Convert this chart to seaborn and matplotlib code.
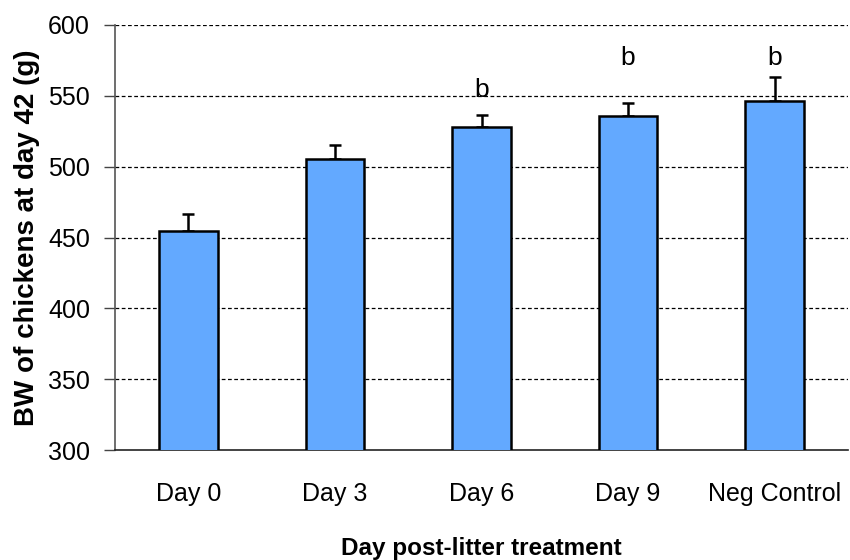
import matplotlib
matplotlib.use("Agg")
import matplotlib.pyplot as plt
import seaborn as sns
import pandas as pd
import numpy as np

categories = ["Day 0", "Day 3", "Day 6", "Day 9", "Neg Control"]
bw_means = [454.5, 505.5, 528, 536, 546.5]
bw_err = [12, 10, 8.5, 9, 17]
letters = ["", "", "b", "b", "b"]
letter_y = [None, None, 554, 577, 577]
y_ticks = [300, 350, 400, 450, 500, 550, 600]

sns.set_style("white")
plt.rcParams["font.family"] = ["Liberation Sans", "DejaVu Sans"]
plt.rcParams["text.color"] = "black"
plt.rcParams["axes.labelcolor"] = "black"
plt.rcParams["xtick.color"] = "black"
plt.rcParams["ytick.color"] = "black"

df = pd.DataFrame({"cat": categories, "bw": bw_means})

fig = plt.figure(figsize=(8.5, 5.6), dpi=100)
ax = fig.add_axes([115/850, 1 - 450/560, (848 - 115)/850, (450 - 25)/560])

sns.barplot(data=df, x="cat", y="bw", ax=ax, color="#63A9FF", saturation=1,
            width=0.4, edgecolor="black", linewidth=1.8, errorbar=None, zorder=3)

x = np.arange(len(categories))
lower = [0] * len(categories)
ax.errorbar(x, bw_means, yerr=[lower, bw_err], fmt="none", ecolor="black",
            elinewidth=1.8, capsize=4.5, capthick=1.8, zorder=2)

for xi, lab, ly in zip(x, letters, letter_y):
    if lab:
        ax.text(xi, ly, lab, ha="center", va="center", fontsize=19, color="black")

ax.set_ylim(300, 600)
ax.set_xlim(-0.5, len(categories) - 0.5)
ax.set_yticks(y_ticks)
ax.set_yticklabels([str(v) for v in y_ticks], fontsize=18)
for v in y_ticks[1:]:
    ax.axhline(v, color="black", linestyle=(0, (3, 2)), linewidth=0.9, zorder=1)

ax.set_xticks(x)
ax.set_xticklabels(categories, fontsize=18)
ax.set_xticks(np.arange(-0.5, len(categories), 1.0), minor=True)
ax.tick_params(axis="x", which="major", length=0, pad=23)
ax.tick_params(axis="x", which="minor", length=7, width=1, color="#444444", direction="out")
ax.tick_params(axis="y", which="major", length=8, width=1, color="#444444", direction="out", pad=10, left=True)

for s in ["top", "right"]:
    ax.spines[s].set_visible(False)
ax.spines["left"].set_color("#555555")
ax.spines["left"].set_linewidth(1.2)
ax.spines["bottom"].set_color("#222222")
ax.spines["bottom"].set_linewidth(1.2)

ax.set_xlabel("Day post-litter treatment", fontsize=17.5, fontweight="bold", labelpad=22)
ax.set_ylabel("BW of chickens at day 42 (g)", fontsize=20, fontweight="bold", labelpad=6)

fig.savefig("out.png", dpi=100)
